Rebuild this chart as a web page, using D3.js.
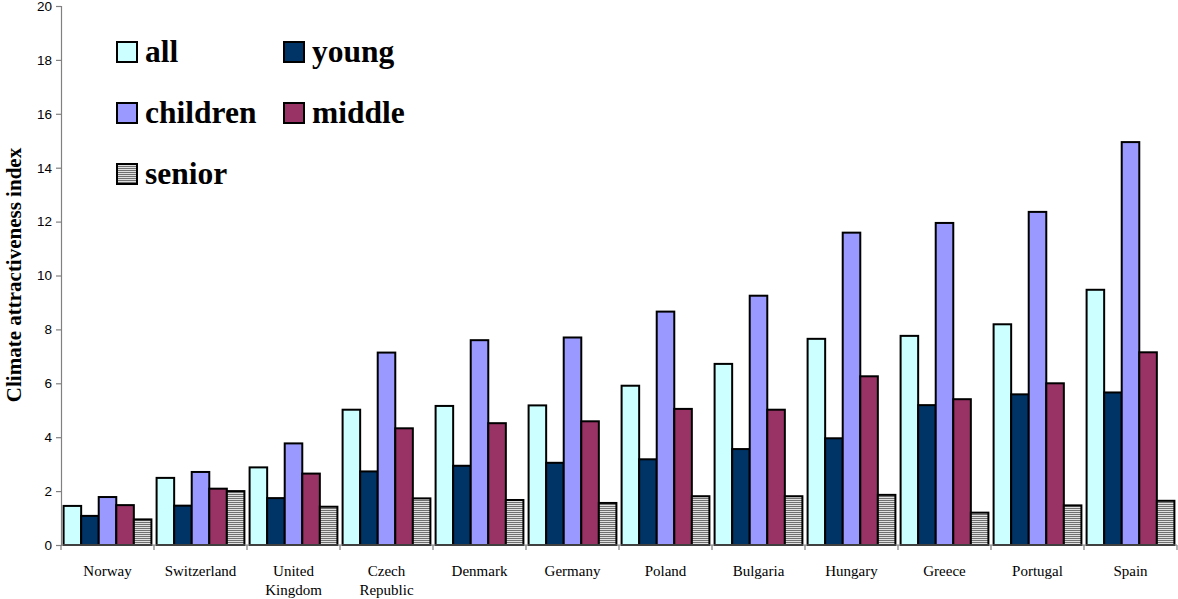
<!DOCTYPE html>
<html>
<head>
<meta charset="utf-8">
<script src="https://cdn.jsdelivr.net/npm/d3@7"></script>
<style>
  html, body { margin: 0; padding: 0; background: #fff; }
  svg { display: block; }
</style>
</head>
<body>
<svg id="chart" width="1178" height="599"></svg>
<script>
// Countries on the category axis
const countries = ["Norway", "Switzerland", "United Kingdom", "Czech Republic", "Denmark",
  "Germany", "Poland", "Bulgaria", "Hungary", "Greece", "Portugal", "Spain"];

// Index values per age group, one entry per country
const allValues      = [1.45, 2.49, 2.88, 5.02, 5.16, 5.18, 5.91, 6.72, 7.65, 7.76, 8.19, 9.47];
const youngValues    = [1.08, 1.46, 1.74, 2.73, 2.94, 3.05, 3.18, 3.56, 3.96, 5.19, 5.59, 5.66];
const childrenValues = [1.78, 2.71, 3.77, 7.14, 7.60, 7.70, 8.66, 9.25, 11.59, 11.95, 12.36, 14.95];
const middleValues   = [1.48, 2.09, 2.65, 4.33, 4.52, 4.59, 5.05, 5.02, 6.26, 5.41, 6.00, 7.15];
const seniorValues   = [0.95, 2.00, 1.42, 1.73, 1.67, 1.56, 1.81, 1.81, 1.86, 1.20, 1.47, 1.64];

const seriesNames = ["all", "young", "children", "middle", "senior"];
const seriesValues = [allValues, youngValues, childrenValues, middleValues, seniorValues];
const yTicks = [0, 2, 4, 6, 8, 10, 12, 14, 16, 18, 20];

const fills = {
  all: "#CCFFFF",
  young: "#003366",
  children: "#9999FF",
  middle: "#993366",
  senior: "url(#stripes)"
};

const svg = d3.select("#chart");

// Horizontal stripe pattern for the senior series
const defs = svg.append("defs");
const pat = defs.append("pattern")
  .attr("id", "stripes")
  .attr("patternUnits", "userSpaceOnUse")
  .attr("width", 4).attr("height", 2);
pat.append("rect").attr("width", 4).attr("height", 2).attr("fill", "#e0e0e0");
pat.append("rect").attr("width", 4).attr("height", 1).attr("fill", "#707070");

const plot = { left: 61, right: 1177, top: 6, bottom: 545 };

const x = d3.scaleBand().domain(countries).range([plot.left, plot.right]).padding(0);
const xs = d3.scaleBand().domain(seriesNames).range([2.6, x.bandwidth() - 2.6]).padding(0);
const y = d3.scaleLinear().domain([0, 20]).range([plot.bottom, plot.top]);

// Bars
const groups = svg.append("g").selectAll("g")
  .data(countries)
  .join("g")
  .attr("transform", d => `translate(${x(d)},0)`);

groups.selectAll("rect")
  .data((c, i) => seriesNames.map((s, k) => ({ s, v: seriesValues[k][i] })))
  .join("rect")
  .attr("x", d => xs(d.s))
  .attr("width", xs.bandwidth())
  .attr("y", d => y(d.v))
  .attr("height", d => y(0) - y(d.v))
  .attr("fill", d => fills[d.s])
  .attr("stroke", "#000")
  .attr("stroke-width", 2);

// Y axis
const yAxis = svg.append("g")
  .attr("transform", `translate(${plot.left},0)`)
  .call(d3.axisLeft(y).tickValues(yTicks).tickSize(5).tickPadding(4));
yAxis.select(".domain").attr("stroke", "#808080").attr("stroke-width", 1.2);
yAxis.selectAll(".tick line").attr("stroke", "#808080").attr("stroke-width", 1.2);
yAxis.selectAll("text")
  .attr("font-family", "Liberation Sans, Arial, sans-serif")
  .attr("font-size", 13.5)
  .attr("fill", "#000");

// X axis: ticks sit on category boundaries
const boundaries = countries.map(c => x(c)).concat([plot.right]);
const xAxisG = svg.append("g");
xAxisG.append("line")
  .attr("x1", plot.left).attr("x2", plot.right)
  .attr("y1", plot.bottom).attr("y2", plot.bottom)
  .attr("stroke", "#808080").attr("stroke-width", 1.2);
xAxisG.selectAll("line.tick")
  .data(boundaries)
  .join("line")
  .attr("class", "tick")
  .attr("x1", d => d).attr("x2", d => d)
  .attr("y1", plot.bottom).attr("y2", plot.bottom + 5)
  .attr("stroke", "#808080").attr("stroke-width", 1.2);

// Category labels, wrapped to two lines where needed
const labelLines = {
  "United Kingdom": ["United", "Kingdom"],
  "Czech Republic": ["Czech", "Republic"]
};
const xl = xAxisG.selectAll("text")
  .data(countries)
  .join("text")
  .attr("x", d => x(d) + x.bandwidth() / 2)
  .attr("y", 576)
  .attr("text-anchor", "middle")
  .attr("font-family", "Liberation Serif, Times New Roman, serif")
  .attr("font-size", 15)
  .attr("fill", "#000");
xl.each(function (d) {
  const lines = labelLines[d] || [d];
  d3.select(this).selectAll("tspan")
    .data(lines)
    .join("tspan")
    .attr("x", x(d) + x.bandwidth() / 2)
    .attr("dy", (l, i) => i === 0 ? 0 : 19)
    .text(l => l);
});

// Axis title
svg.append("text")
  .attr("transform", `translate(21,275) rotate(-90)`)
  .attr("text-anchor", "middle")
  .attr("font-family", "Liberation Serif, Times New Roman, serif")
  .attr("font-weight", "bold")
  .attr("font-size", 21)
  .attr("fill", "#000")
  .text("Climate attractiveness index");

// Legend
const legendItems = [
  { s: "all", col: 0, row: 0 },
  { s: "young", col: 1, row: 0 },
  { s: "children", col: 0, row: 1 },
  { s: "middle", col: 1, row: 1 },
  { s: "senior", col: 0, row: 2 }
];
const legend = svg.append("g");
const li = legend.selectAll("g")
  .data(legendItems)
  .join("g")
  .attr("transform", d => `translate(${117 + d.col * 167},${42 + d.row * 61})`);
li.append("rect")
  .attr("width", 20).attr("height", 20)
  .attr("fill", d => fills[d.s])
  .attr("stroke", "#000").attr("stroke-width", 2);
li.append("text")
  .attr("x", 28).attr("y", 20)
  .attr("font-family", "Liberation Serif, Times New Roman, serif")
  .attr("font-weight", "bold")
  .attr("font-size", 31.5)
  .attr("fill", "#000")
  .text(d => d.s);
</script>
</body>
</html>
